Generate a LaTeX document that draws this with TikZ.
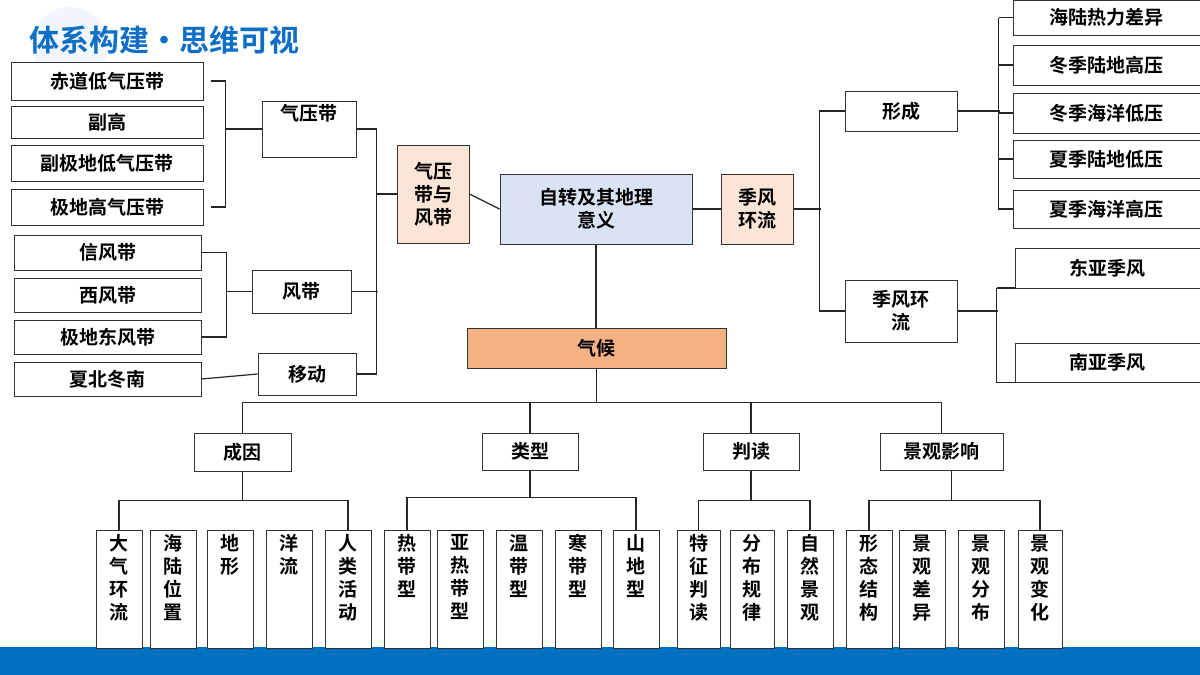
\documentclass[tikz,border=0pt]{standalone}
\usepackage{fontspec}
\setmainfont{Noto Sans CJK SC Bold}
\usetikzlibrary{positioning}
\definecolor{peach}{HTML}{FBE5D6}
\definecolor{paleblue}{HTML}{DAE3F3}
\definecolor{climate}{HTML}{F4B183}
\definecolor{titleblue}{HTML}{0F6FC6}
\definecolor{band}{HTML}{0070C0}
\tikzset{
  x=1pt, y=-1pt,
  box/.style={draw=black!80, line width=1pt, fill=white, inner sep=0pt, align=center,
    font=\fontsize{19}{23}\selectfont},
  link/.style={line width=1.2pt, black!85},
}
% box from corner to corner
\newcommand{\bx}[7]{\node[box,#6,minimum width={(#4-#2)*1pt},minimum height={(#5-#3)*1pt}]
  (#1) at ({(#2+#4)/2},{(#3+#5)/2}) {#7};}
% tall box with text from the top
\newcommand{\vbx}[4]{\node[box,minimum width={(#3-#2)*1pt},minimum height=118pt,anchor=north]
  (#1) at ({(#2+#3)/2},530) {};
  \node[box,draw=none,fill=none,anchor=north] (#1t) at ([yshift=-4pt]#1.north) {#4};}
\begin{document}
\begin{tikzpicture}
\useasboundingbox (0,0) rectangle (1200,675);
% Background and title
\fill[titleblue!6] (70,45) circle (38);
\fill[band] (0,647) rectangle (1200,675);
\node[anchor=west, text=titleblue, font=\fontsize{30}{34}\selectfont] (title) at (26,40) {体系构建·思维可视};
% Pressure belts
\bx{chidao}{11}{62}{203}{100}{}{赤道低气压带}
\bx{fugao}{11}{106}{203}{138}{}{副高}
\bx{fuji}{11}{145}{203}{181}{}{副极地低气压带}
\bx{jidigao}{11}{189}{203}{225}{}{极地高气压带}
\bx{qyd}{262}{101}{356}{157}{}{气压带\\[10pt]}
% Wind belts
\bx{xinfeng}{14}{235}{201}{270}{}{信风带}
\bx{xifeng}{14}{278}{201}{312}{}{西风带}
\bx{jidong}{14}{320}{201}{354}{}{极地东风带}
\bx{fd}{252}{270}{351}{313}{}{风带}
\bx{xbdn}{14}{362}{201}{396}{}{夏北冬南}
\bx{yd}{258}{353}{356}{395}{}{移动}
\bx{qydyfd}{397}{145}{469}{243}{fill=peach}{气压\\带与\\风带}
% Centre
\bx{zz}{500}{174}{692}{244}{fill=paleblue}{自转及其地理\\意义}
\bx{jfhl}{721}{174}{793}{244}{fill=peach}{季风\\环流}
\bx{qh}{467}{328}{726}{368}{fill=climate}{气候}
% Monsoon
\bx{xc}{845}{91}{957}{131}{}{形成}
\bx{jfhl2}{845}{280}{957}{342}{}{季风环\\流}
\bx{hlrl}{1013}{0}{1200}{35}{}{海陆热力差异}
\bx{dlgy}{1013}{45}{1200}{85}{}{冬季陆地高压}
\bx{dhdy}{1013}{93}{1200}{133}{}{冬季海洋低压}
\bx{xldy}{1013}{140}{1200}{178}{}{夏季陆地低压}
\bx{xhgy}{1013}{190}{1200}{228}{}{夏季海洋高压}
\bx{dyjf}{1015}{248}{1200}{288}{}{东亚季风}
\bx{nyjf}{1015}{343}{1200}{382}{}{南亚季风}
% Second level
\bx{cy}{194}{433}{291}{471}{}{成因}
\bx{lx}{482}{433}{578}{470}{}{类型}
\bx{pd}{703}{433}{799}{470}{}{判读}
\bx{jgyx}{880}{433}{1003}{470}{}{景观影响}
% Third level
\vbx{dqhl}{96}{142}{大\\气\\环\\流}
\vbx{hlwz}{150}{196}{海\\陆\\位\\置}
\vbx{dx}{207}{253}{地\\形}
\vbx{yl}{266}{312}{洋\\流}
\vbx{rlhd}{325}{371}{人\\类\\活\\动}
\vbx{rdx}{384}{430}{热\\带\\型}
\vbx{yrdx}{437}{483}{亚\\热\\带\\型}
\vbx{wdx}{496}{542}{温\\带\\型}
\vbx{hdx}{555}{601}{寒\\带\\型}
\vbx{sdx}{613}{659}{山\\地\\型}
\vbx{tzpd}{677}{720}{特\\征\\判\\读}
\vbx{fbgl}{730}{774}{分\\布\\规\\律}
\vbx{zrjg}{787}{833}{自\\然\\景\\观}
\vbx{xtjg}{846}{892}{形\\态\\结\\构}
\vbx{jgcy}{899}{945}{景\\观\\差\\异}
\vbx{jgfb}{958}{1004}{景\\观\\分\\布}
\vbx{jgbh}{1018}{1062}{景\\观\\变\\化}
% Brackets on the left
\draw[link] ([xshift=7pt]chidao.east) -| ([xshift=-36pt]qyd.west) |- ([xshift=7pt]jidigao.east);
\draw[link] (qyd.west) -- ++(-36,0);
\draw[link] (xinfeng.east) -| ([xshift=-25pt]fd.west) |- (jidong.east);
\draw[link] (fd.west) -- ++(-25,0);
\draw[link] (xbdn.east) -- (yd.west);
\draw[link] (qyd.east) -| ([xshift=-20pt]qydyfd.west) |- (yd.east);
\draw[link] (fd.east) -- ++(26,0);
\draw[link] ([xshift=-20pt]qydyfd.west) -- (qydyfd.west);
\draw[link] (qydyfd.east) -- (zz.west);
\draw[link] (zz.east) -- (jfhl.west);
% Monsoon brackets
\draw[link] (jfhl.east) -- ++(27,0);
\draw[link] (xc.west) -| ([xshift=-25pt]jfhl2.west) -- (jfhl2.west);
\draw[link] (xc.east) -- ++(42,0);
\draw[link] ([xshift=-14pt]hlrl.west) -- (hlrl.west);
\draw[link] ([xshift=-14pt]hlrl.west) |- ([xshift=0pt]xhgy.west);
\foreach \n in {dlgy,dhdy,xldy} \draw[link] (\n.west) -- ++(-14,0);
\draw[link] (jfhl2.east) -- ++(40,0);
\draw[link] ([yshift=-20pt,xshift=-18pt]dyjf.west) -- ([yshift=-20pt]dyjf.west);
\draw[link] ([yshift=-20pt,xshift=-18pt]dyjf.west) -- ([yshift=-20pt,xshift=-18pt]nyjf.west) -- ([yshift=-20pt]nyjf.west);
% Down to the climate
\draw[link] (zz.south) -- (zz.south |- qh.north);
\draw[link] (qh.south) -- ++(0,34) coordinate (split);
\draw[link] (cy.north) |- (split) -| (jgyx.north);
\draw[link] (lx.north) -- (lx.north |- split);
\draw[link] (pd.north) -- (pd.north |- split);
% Third level brackets
\draw[link] (cy.south) -- ++(0,29) coordinate (cyb);
\draw[link] (dqhl.north) |- (cyb) -| (rlhd.north);
\draw[link] (lx.south) -- ++(0,27) coordinate (lxb);
\draw[link] (rdx.north) |- (lxb) -| (sdx.north);
\draw[link] (pd.south) -- ++(0,30) coordinate (pdb);
\draw[link] (tzpd.north) |- (pdb) -| (zrjg.north);
\draw[link] ([xshift=10pt]jgyx.south) -- ++(0,30) coordinate (jgb);
\draw[link] (xtjg.north) |- (jgb) -| (jgbh.north);
\end{tikzpicture}
\end{document}
